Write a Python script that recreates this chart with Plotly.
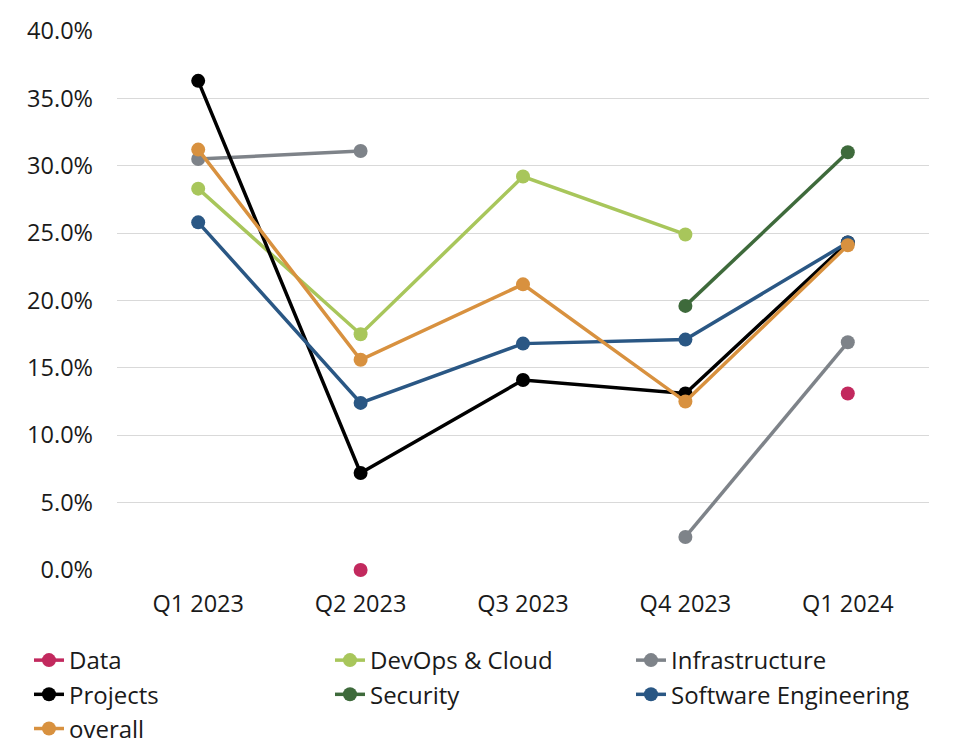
import plotly.graph_objects as go

quarters = ["Q1 2023", "Q2 2023", "Q3 2023", "Q4 2023", "Q1 2024"]
data_vals = [None, 0.000, None, None, 0.131]
devops_vals = [0.283, 0.175, 0.292, 0.249, None]
infra_vals = [0.305, 0.311, None, 0.0245, 0.169]
projects_vals = [0.363, 0.072, 0.141, 0.131, 0.243]
security_vals = [None, None, None, 0.196, 0.310]
software_vals = [0.258, 0.124, 0.168, 0.171, 0.243]
overall_vals = [0.312, 0.156, 0.212, 0.125, 0.241]

series = [
    ("Data", data_vals, "#C2295E"),
    ("DevOps & Cloud", devops_vals, "#A8C65B"),
    ("Infrastructure", infra_vals, "#7E8389"),
    ("Projects", projects_vals, "#000000"),
    ("Security", security_vals, "#3E6A3B"),
    ("Software Engineering", software_vals, "#2A5784"),
    ("overall", overall_vals, "#D8913F"),
]

fig = go.Figure()
for name, vals, color in series:
    fig.add_trace(go.Scatter(
        x=quarters, y=vals, name=name, mode="lines+markers",
        line=dict(color=color, width=3.5),
        marker=dict(color=color, size=14),
        connectgaps=False, cliponaxis=False,
    ))

fig.update_layout(
    width=959, height=740,
    margin=dict(l=109, r=38, t=23, b=178, autoexpand=False),
    paper_bgcolor="white", plot_bgcolor="white",
    font=dict(family="Open Sans", size=23, color="#1a1a1a"),
    showlegend=True,
    legend=dict(
        orientation="h", x=-0.1084, xanchor="left",
        y=-0.1262, yanchor="top",
        entrywidth=256, entrywidthmode="pixels", itemwidth=30,
        font=dict(family="Open Sans", size=24, color="#1a1a1a"),
        traceorder="normal",
    ),
    xaxis=dict(
        type="category", range=[-0.5, 4.5], showgrid=False,
        showline=False, zeroline=False, ticks="",
        ticklabelstandoff=17, tickfont=dict(size=23.5),
    ),
    yaxis=dict(
        range=[0, 0.40], dtick=0.05, tickformat=".1%",
        showgrid=True, gridcolor="#D9D9D9", gridwidth=1,
        zeroline=False, showline=False, ticks="",
        ticklabelstandoff=23, tickfont=dict(size=23.5),
    ),
)

fig.write_html("out.html")
